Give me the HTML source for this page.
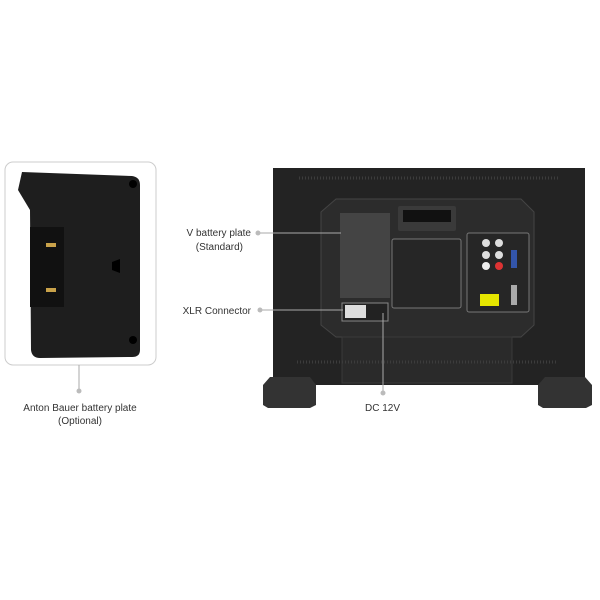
<!DOCTYPE html><html><head><style>body{margin:0;background:#fff}svg{display:block}text{font-family:"Liberation Sans",sans-serif;fill:#333;font-size:10px}</style></head><body>
<svg width="600" height="600" viewBox="0 0 600 600">
<rect x="5" y="162" width="151" height="203" rx="8" fill="#fff" stroke="#ccc"/>
<path d="M22 172 L132 176 Q140 177 140 185 L140 350 Q140 357 132 357 L40 358 Q32 358 31 350 L30 210 L18 190 L22 172Z" fill="#1e1e1e"/>
<rect x="30" y="227" width="34" height="80" fill="#111"/>
<rect x="46" y="243" width="10" height="4" fill="#c9a24a"/><rect x="46" y="288" width="10" height="4" fill="#c9a24a"/>
<circle cx="133" cy="184" r="4" fill="#000"/><circle cx="133" cy="340" r="4" fill="#000"/><path d="M112 262 l8 -3 l0 14 l-8 -3z" fill="#000"/>
<line x1="79" y1="365" x2="79" y2="390" stroke="#aaa"/><circle cx="79" cy="391" r="2.5" fill="#bbb"/>
<text x="80" y="411" text-anchor="middle">Anton Bauer battery plate</text><text x="80" y="424" text-anchor="middle">(Optional)</text>
<rect x="273" y="168" width="312" height="217" fill="#232323"/>
<path d="M299 178 H558" stroke="#3c3c3c" stroke-width="3" stroke-dasharray="1 2"/>
<path d="M336 199 H521 L534 212 V325 L521 337 H336 L321 325 V212Z" fill="#2c2c2c" stroke="#444"/>
<rect x="342" y="337" width="170" height="46" fill="#2a2a2a" stroke="#3a3a3a"/>
<path d="M297 362 H556" stroke="#3c3c3c" stroke-width="3" stroke-dasharray="1 2"/>
<rect x="398" y="206" width="58" height="25" rx="2" fill="#3a3a3a"/><rect x="403" y="210" width="48" height="12" fill="#111"/>
<rect x="340" y="213" width="50" height="85" fill="#444"/>
<rect x="392" y="239" width="69" height="69" rx="2" fill="#262626" stroke="#777"/>
<rect x="467" y="233" width="62" height="79" rx="2" fill="#262626" stroke="#777"/>
<circle cx="486" cy="243" r="4" fill="#ddd"/><circle cx="499" cy="243" r="4" fill="#ddd"/><circle cx="486" cy="255" r="4" fill="#ddd"/><circle cx="499" cy="255" r="4" fill="#ddd"/><circle cx="486" cy="266" r="4" fill="#eee"/><circle cx="499" cy="266" r="4" fill="#d33"/>
<rect x="511" y="250" width="6" height="18" fill="#3355aa"/>
<rect x="480" y="294" width="19" height="12" fill="#e6e600"/><rect x="511" y="285" width="6" height="20" fill="#aaa"/>
<rect x="342" y="303" width="46" height="18" fill="#222" stroke="#888"/><rect x="345" y="305" width="21" height="13" fill="#ddd"/>
<path d="M263 385 L270 377 H310 L316 385 V405 L310 408 H268 L263 405Z" fill="#333"/>
<path d="M538 385 L545 377 H585 L592 385 V405 L586 408 H543 L538 405Z" fill="#333"/>
<line x1="258" y1="233" x2="341" y2="233" stroke="#aaa"/><circle cx="258" cy="233" r="2.5" fill="#bbb"/>
<text x="251" y="236" text-anchor="end">V battery plate</text><text x="243" y="250" text-anchor="end">(Standard)</text>
<line x1="260" y1="310" x2="343" y2="310" stroke="#aaa"/><circle cx="260" cy="310" r="2.5" fill="#bbb"/>
<text x="251" y="314" text-anchor="end">XLR Connector</text>
<line x1="383" y1="313" x2="383" y2="392" stroke="#aaa"/><circle cx="383" cy="393" r="2.5" fill="#bbb"/>
<text x="365" y="411">DC 12V</text>
</svg></body></html>
